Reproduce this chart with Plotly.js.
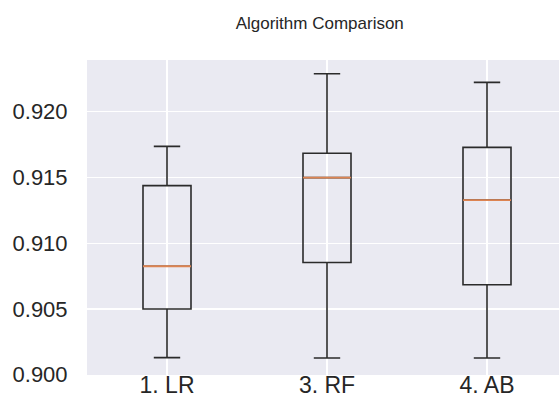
<!DOCTYPE html>
<html>
<head>
<meta charset="utf-8">
<script src="https://cdn.plot.ly/plotly-3.0.1.min.js"></script>
<style>html,body{margin:0;padding:0;overflow:hidden;background:#fff;}#chart{width:559px;height:405px;}</style>
</head>
<body>
<div id="chart"></div>
<script>
const categories = ['1. LR', '3. RF', '4. AB'];
const lowerWhisker = [0.90130, 0.90127, 0.90127];
const q1Values = [0.90500, 0.90853, 0.90684];
const medianValues = [0.90825, 0.91499, 0.91328];
const q3Values = [0.91438, 0.91684, 0.91729];
const upperWhisker = [0.91736, 0.92289, 0.92223];
const yTickValues = [0.900, 0.905, 0.910, 0.915, 0.920];

const boxTrace = {
  type: 'box',
  x: categories,
  q1: q1Values,
  median: medianValues,
  q3: q3Values,
  lowerfence: lowerWhisker,
  upperfence: upperWhisker,
  width: 0.3,
  whiskerwidth: 0.55,
  fillcolor: 'rgba(0,0,0,0)',
  line: {color: '#2b2b2b', width: 1.6},
  hoverinfo: 'skip',
  showlegend: false
};

// orange median line drawn on top of the box's own median
const medianTrace = {
  type: 'box',
  x: categories,
  q1: medianValues,
  median: medianValues,
  q3: medianValues,
  lowerfence: medianValues,
  upperfence: medianValues,
  width: 0.3,
  whiskerwidth: 0,
  fillcolor: 'rgba(0,0,0,0)',
  line: {color: '#dd8452', width: 1.8},
  hoverinfo: 'skip',
  showlegend: false
};

const layout = {
  width: 559,
  height: 405,
  margin: {l: 87, r: 0, t: 60, b: 30, pad: 0},
  paper_bgcolor: '#ffffff',
  plot_bgcolor: '#eaeaf2',
  boxmode: 'overlay',
  font: {family: 'Liberation Sans, Arial, sans-serif', color: '#262626'},
  title: {
    text: 'Algorithm Comparison',
    font: {size: 17, color: '#262626', family: 'Liberation Sans, Arial, sans-serif'},
    xref: 'container', x: 0.572, xanchor: 'center',
    yref: 'container', y: 0.944, yanchor: 'middle'
  },
  xaxis: {
    type: 'category',
    range: [-0.5, 2.45],
    showgrid: true,
    gridcolor: '#ffffff',
    gridwidth: 1.2,
    zeroline: false,
    showline: false,
    ticks: '',
    ticklen: 0,
    ticklabelstandoff: -6,
    tickfont: {size: 23, color: '#262626'}
  },
  yaxis: {
    range: [0.89998, 0.92393],
    tickvals: yTickValues,
    tickformat: '.3f',
    showgrid: true,
    gridcolor: '#ffffff',
    gridwidth: 1.2,
    zeroline: false,
    showline: false,
    ticks: 'outside',
    ticklen: 14,
    tickcolor: 'rgba(0,0,0,0)',
    tickfont: {size: 22, color: '#262626'}
  }
};

Plotly.newPlot('chart', [boxTrace, medianTrace], layout, {staticPlot: true, displayModeBar: false});
</script>
</body>
</html>
